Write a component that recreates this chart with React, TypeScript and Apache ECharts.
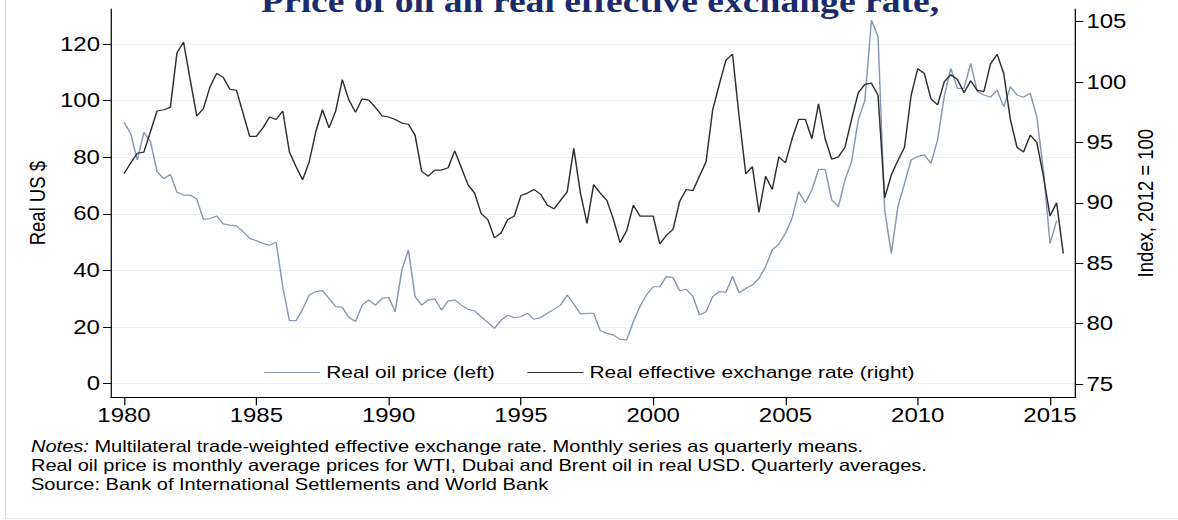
import React, { useEffect, useRef } from "react";
import * as echarts from "echarts";

const startYear = 1980;
const xTicks = [1980, 1985, 1990, 1995, 2000, 2005, 2010, 2015];
const leftTicks = [0, 20, 40, 60, 80, 100, 120];
const rightTicks = [75, 80, 85, 90, 95, 100, 105];

// Real oil price, quarterly from 1980Q1 (left axis, real US $)
const oilPrice = [
  92.3, 88.4, 79.0, 88.8, 85.5, 74.9, 72.4, 73.9, 67.6, 66.6,
  66.6, 65.2, 58.0, 58.3, 59.2, 56.4, 56.0, 55.7, 53.7, 51.3,
  50.5, 49.5, 48.9, 49.9, 34.2, 22.2, 22.2, 26.2, 31.3, 32.5,
  32.8, 30.1, 27.2, 26.9, 23.3, 21.9, 27.7, 29.5, 27.7, 30.1,
  30.5, 25.4, 40.1, 47.2, 30.7, 27.7, 29.5, 29.9, 26.0, 29.2,
  29.5, 27.7, 26.2, 25.7, 23.6, 21.6, 19.5, 22.4, 24.1, 23.3,
  23.6, 24.8, 22.7, 23.3, 24.8, 26.2, 27.7, 31.3, 28.1, 24.6,
  24.8, 24.8, 18.7, 17.7, 17.1, 15.6, 15.4, 21.9, 27.2, 31.3,
  34.2, 34.2, 37.8, 37.5, 32.8, 33.3, 30.9, 24.2, 25.4, 30.7,
  32.5, 32.2, 37.8, 32.1, 33.6, 34.8, 37.2, 41.3, 47.2, 49.3,
  53.1, 58.4, 67.8, 63.9, 68.4, 75.7, 75.7, 64.9, 62.5, 71.9,
  78.4, 93.1, 100.0, 128.4, 122.6, 61.3, 46.0, 62.5, 70.7, 79.0,
  80.2, 80.8, 77.8, 86.1, 101.4, 111.4, 104.3, 104.3, 113.2, 103.2,
  102.0, 101.2, 103.7, 97.8, 104.9, 102.0, 101.2, 102.6, 94.3, 75.4,
  49.5, 57.6,
];

// Real effective exchange rate, quarterly from 1980Q1 (right axis, 2012 = 100)
const reer = [
  92.4, 93.3, 94.1, 94.2, 95.9, 97.6, 97.7, 97.9, 102.4, 103.3,
  100.2, 97.2, 97.8, 99.6, 100.7, 100.4, 99.4, 99.3, 97.4, 95.5,
  95.5, 96.2, 97.1, 96.9, 97.6, 94.2, 93.0, 91.9, 93.4, 95.9,
  97.7, 96.2, 97.6, 100.2, 98.5, 97.5, 98.6, 98.5, 97.9, 97.2,
  97.1, 96.9, 96.6, 96.5, 95.6, 92.6, 92.2, 92.7, 92.7, 92.9,
  94.3, 92.9, 91.5, 90.8, 89.1, 88.6, 87.1, 87.5, 88.6, 88.9,
  90.6, 90.8, 91.1, 90.7, 89.8, 89.5, 90.2, 90.9, 94.5, 90.8,
  88.3, 91.5, 90.8, 90.2, 88.6, 86.7, 87.7, 89.8, 88.9, 88.9,
  88.9, 86.6, 87.3, 87.8, 90.1, 91.1, 91.0, 92.2, 93.4, 97.7,
  99.8, 101.8, 102.3, 97.1, 92.4, 93.0, 89.2, 92.2, 91.1, 93.8,
  93.3, 95.3, 96.9, 96.9, 95.3, 98.2, 95.3, 93.6, 93.8, 94.6,
  96.9, 99.1, 99.8, 99.9, 98.9, 90.4, 92.3, 93.5, 94.6, 98.9,
  101.1, 100.7, 98.6, 98.1, 100.0, 100.6, 100.2, 99.1, 100.1, 99.3,
  99.2, 101.5, 102.3, 100.7, 96.9, 94.6, 94.2, 95.6, 95.0, 92.2,
  88.9, 90.0, 85.8,
];

const titleText = "Price of oil an real effective exchange rate,";
const noteLines = [
  "{i|Notes:} Multilateral trade-weighted effective exchange rate. Monthly series as quarterly means.",
  "Real oil price is monthly average prices for WTI, Dubai and Brent oil in real USD. Quarterly averages.",
  "Source: Bank of International Settlements and World Bank",
];

const W = 958;
const H = 520;
const S = 1178 / W;
const FONT = "'Liberation Sans', Arial, Helvetica, sans-serif";
const OIL_COLOR = "#8798b2";
const REER_COLOR = "#2f2f2f";

export default function App() {
  const ref = useRef<HTMLDivElement>(null);
  useEffect(() => {
    const chart = echarts.init(ref.current!, null, { renderer: "svg", width: W, height: H });
    const toPairs = (arr: number[]) => arr.map((v, i) => [startYear + i / 4, v]);
    const noteY = [446, 465.2, 484.2];
    chart.setOption({
      animation: false,
      backgroundColor: "#ffffff",
      textStyle: { fontFamily: FONT },
      grid: {
        left: 90.3,
        right: 83.5,
        top: 9,
        bottom: 122.7,
        containLabel: false,
        outerBoundsMode: "none",
      },
      legend: {
        left: 209.8,
        top: 359,
        icon: "rect",
        itemWidth: 45.5,
        itemHeight: 1.1,
        itemGap: 26.6,
        textStyle: { fontSize: 17, color: "#000", fontFamily: FONT },
        data: [
          { name: "Real oil price (left)", itemStyle: { color: OIL_COLOR } },
          { name: "Real effective exchange rate (right)", itemStyle: { color: REER_COLOR } },
        ],
      },
      xAxis: {
        type: "value",
        min: 1979.509,
        max: 2015.956,
        axisLine: { show: true, onZero: false, lineStyle: { color: "#000", width: 1 } },
        axisTick: { show: true, length: 8, customValues: xTicks, lineStyle: { color: "#000" } },
        axisLabel: {
          customValues: xTicks,
          formatter: (v: number) => String(Math.round(v)),
          fontSize: 19.5,
          color: "#000",
          margin: 8,
          fontFamily: FONT,
        },
        splitLine: { show: false },
      },
      yAxis: [
        {
          type: "value",
          position: "left",
          min: -4.88,
          max: 132.38,
          name: "Real US $",
          nameLocation: "middle",
          nameRotate: 90,
          nameGap: 51,
          nameMoveOverlap: false,
          nameTextStyle: { fontSize: 18.5, color: "#000", fontFamily: FONT },
          axisLine: { show: true, onZero: false, lineStyle: { color: "#000", width: 1 } },
          axisTick: { show: true, length: 6.5, customValues: leftTicks, lineStyle: { color: "#000" } },
          axisLabel: {
            customValues: leftTicks,
            formatter: (v: number) => String(Math.round(v)),
            fontSize: 19.5,
            color: "#000",
            margin: 9,
            fontFamily: FONT,
          },
          splitLine: { show: true, lineStyle: { color: "#eaf2f3", width: 1 } },
        },
        {
          type: "value",
          position: "right",
          min: 73.9,
          max: 106.04,
          name: "Index, 2012 = 100",
          nameLocation: "middle",
          nameRotate: 90,
          nameGap: 47,
          nameMoveOverlap: false,
          nameTextStyle: { fontSize: 18.5, color: "#000", fontFamily: FONT },
          axisLine: { show: true, onZero: false, lineStyle: { color: "#000", width: 1 } },
          axisTick: { show: true, length: 6.5, customValues: rightTicks, lineStyle: { color: "#000" } },
          axisLabel: {
            customValues: rightTicks,
            formatter: (v: number) => String(Math.round(v)),
            fontSize: 19.5,
            color: "#000",
            margin: 9,
            fontFamily: FONT,
          },
          splitLine: { show: false },
        },
      ],
      series: [
        {
          name: "Real oil price (left)",
          type: "line",
          yAxisIndex: 0,
          data: toPairs(oilPrice),
          symbol: "none",
          lineStyle: { color: OIL_COLOR, width: 1.2 },
          itemStyle: { color: OIL_COLOR },
        },
        {
          name: "Real effective exchange rate (right)",
          type: "line",
          yAxisIndex: 1,
          data: toPairs(reer),
          symbol: "none",
          lineStyle: { color: REER_COLOR, width: 1.2 },
          itemStyle: { color: REER_COLOR },
        },
      ],
      graphic: [
        {
          type: "line",
          shape: { x1: 4.5, y1: 0, x2: 4.5, y2: 518.5 },
          style: { stroke: "#dedede", lineWidth: 1 },
        },
        {
          type: "line",
          shape: { x1: 4.5, y1: 518.5, x2: W, y2: 518.5 },
          style: { stroke: "#e6e6e6", lineWidth: 1 },
        },
        {
          type: "text",
          x: 488,
          y: 1.5,
          style: {
            text: titleText,
            align: "center",
            verticalAlign: "middle",
            fontSize: 30.6,
            fontWeight: "bold",
            fontFamily: "'Liberation Serif', 'Times New Roman', serif",
            fill: "#1a2a6c",
          },
        },
        ...noteLines.map((t, i) => ({
          type: "text",
          x: 25.2,
          y: noteY[i],
          style: {
            text: t,
            align: "left",
            verticalAlign: "middle",
            fontSize: 16.3,
            fontFamily: FONT,
            fill: "#000",
            rich: {
              i: { fontStyle: "italic", fontSize: 16.3, fontFamily: FONT, fill: "#000" },
            },
          },
        })),
      ],
    });
    return () => chart.dispose();
  }, []);
  return (
    <div
      ref={ref}
      style={{
        position: "absolute",
        left: 0,
        top: 0,
        width: W,
        height: H,
        transform: `scaleX(${S})`,
        transformOrigin: "0 0",
        background: "#fff",
      }}
    />
  );
}
